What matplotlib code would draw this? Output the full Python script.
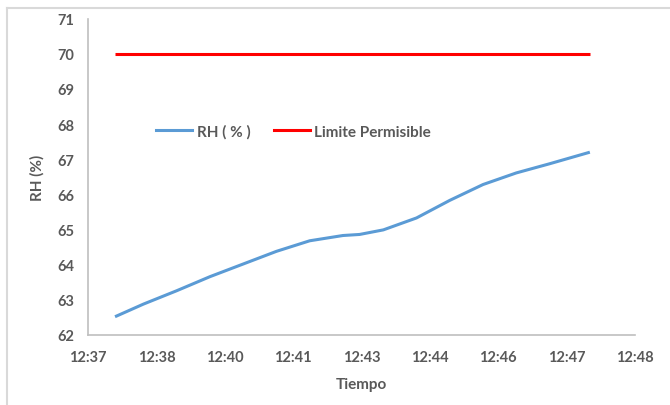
import numpy as np
import matplotlib
matplotlib.use("Agg")
import matplotlib.pyplot as plt
from matplotlib.lines import Line2D

# readings (hh:mm:ss) and relative humidity
times = ["12:37:26", "12:38:02", "12:38:44", "12:39:26", "12:40:08", "12:40:50",
         "12:41:32", "12:42:14", "12:42:35", "12:43:05", "12:43:47", "12:44:29",
         "12:45:11", "12:45:53", "12:46:35", "12:47:26"]
rh = [62.52, 62.88, 63.26, 63.66, 64.02, 64.38,
      64.68, 64.83, 64.86, 64.99, 65.33, 65.83,
      66.28, 66.61, 66.87, 67.20]

limit_times = ["12:37:26", "12:47:26"]
limit = [70, 70]

tick_labels = ["12:37", "12:38", "12:40", "12:41", "12:43", "12:44", "12:46", "12:47", "12:48"]


def to_minutes(t):
    h, m, s = [int(p) for p in t.split(":")]
    return h * 60 + m + s / 60.0


x = [to_minutes(t) for t in times]
x_lim = [to_minutes(t) for t in limit_times]

# Excel-like time axis: 0.001 day steps
x0 = 0.5256 * 1440
step = 0.001 * 1440
ticks = [x0 + i * step for i in range(len(tick_labels))]

grey = "#595959"
plt.rcParams["font.family"] = ["Lato", "DejaVu Sans"]

fig = plt.figure(figsize=(6.7, 4.06), dpi=100)
ax = fig.add_axes([88 / 670, 1 - 336 / 406, (635 - 88) / 670, (336 - 19.6) / 406])

ax.plot(x, rh, color="#5B9BD5", lw=2.2, solid_capstyle="butt", solid_joinstyle="round",
        label="RH ( % )")
ax.plot(x_lim, limit, color="#FF0000", lw=2.2, solid_capstyle="butt", label="Limite Permisible")

ax.set_xlim(ticks[0], ticks[-1])
ax.set_ylim(62, 71)
ax.set_xticks(ticks)
ax.set_xticklabels(tick_labels)
ax.set_yticks(range(62, 72))
ax.tick_params(length=0, labelsize=10.5, labelcolor=grey)
ax.tick_params(axis="x", pad=11)
ax.tick_params(axis="y", pad=10)
for lbl in ax.get_xticklabels() + ax.get_yticklabels():
    lbl.set_fontweight("bold")

for side in ["top", "right"]:
    ax.spines[side].set_visible(False)
for side in ["left", "bottom"]:
    ax.spines[side].set_color("#BFBFBF")
    ax.spines[side].set_linewidth(1.2)

ax.set_xlabel("Tiempo", fontsize=11, color=grey, fontweight="bold", labelpad=9)
ax.set_ylabel("RH (%)", fontsize=11, color=grey, fontweight="bold", labelpad=9)

handles = [Line2D([], [], color="#5B9BD5", lw=2.2), Line2D([], [], color="#FF0000", lw=2.2)]
leg = ax.legend(handles, ["RH ( % )", "Limite Permisible"], loc="center left",
                bbox_to_anchor=(0.1, 0.643), ncol=2, frameon=False,
                handlelength=2.35, handletextpad=0.3, columnspacing=1.5,
                prop={"size": 11, "weight": "bold"})
for t in leg.get_texts():
    t.set_color(grey)

# outer chart border (cropped screenshot shows left and top edges)
fig.add_artist(Line2D([7 / 670, 7 / 670], [0, 1 - 8.5 / 406], color="#D9D9D9", lw=1.5))
fig.add_artist(Line2D([7 / 670, 1], [1 - 8.5 / 406, 1 - 8.5 / 406], color="#D9D9D9", lw=1.5))

fig.savefig("out.png", dpi=100)
